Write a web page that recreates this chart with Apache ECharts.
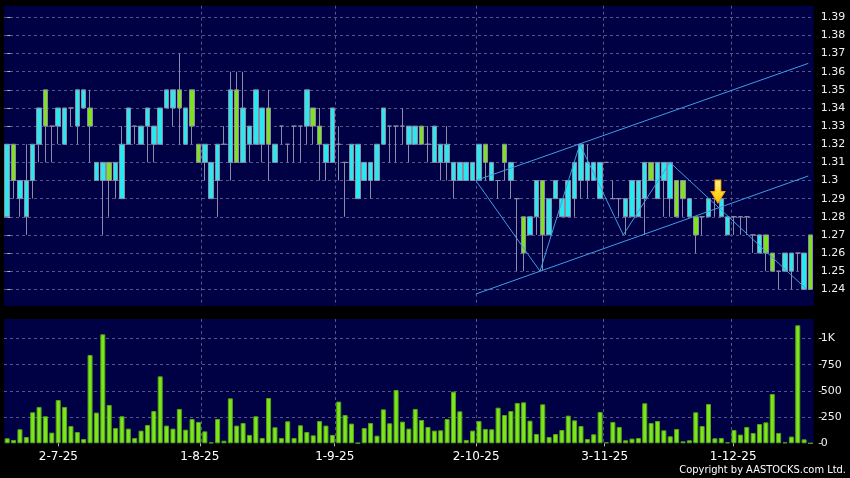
<!DOCTYPE html>
<html><head><meta charset="utf-8">
<script src="https://cdn.jsdelivr.net/npm/echarts@6/dist/echarts.min.js"></script>
<style>html,body{margin:0;padding:0;background:#000;}#c{width:850px;height:478px;}</style>
</head><body><div id="c"></div>
<script>
// Trading days (D-M-YY)
const dates = [
'19-6-25','20-6-25','23-6-25','24-6-25','25-6-25','26-6-25','27-6-25','30-6-25',
'2-7-25','3-7-25','4-7-25','7-7-25','8-7-25','9-7-25','10-7-25','11-7-25','14-7-25','15-7-25','16-7-25','17-7-25','18-7-25','21-7-25','22-7-25','23-7-25','24-7-25','25-7-25','28-7-25','29-7-25','30-7-25','31-7-25',
'1-8-25','4-8-25','5-8-25','6-8-25','7-8-25','8-8-25','11-8-25','12-8-25','13-8-25','14-8-25','15-8-25','18-8-25','19-8-25','20-8-25','21-8-25','22-8-25','25-8-25','26-8-25','27-8-25','28-8-25','29-8-25',
'1-9-25','2-9-25','3-9-25','4-9-25','5-9-25','8-9-25','9-9-25','10-9-25','11-9-25','12-9-25','15-9-25','16-9-25','17-9-25','18-9-25','19-9-25','22-9-25','23-9-25','24-9-25','25-9-25','26-9-25','29-9-25','30-9-25',
'2-10-25','3-10-25','6-10-25','8-10-25','9-10-25','10-10-25','13-10-25','14-10-25','15-10-25','16-10-25','17-10-25','20-10-25','21-10-25','22-10-25','23-10-25','24-10-25','27-10-25','28-10-25','30-10-25','31-10-25',
'3-11-25','4-11-25','5-11-25','6-11-25','7-11-25','10-11-25','11-11-25','12-11-25','13-11-25','14-11-25','17-11-25','18-11-25','19-11-25','20-11-25','21-11-25','24-11-25','25-11-25','26-11-25','27-11-25','28-11-25',
'1-12-25','2-12-25','3-12-25','4-12-25','5-12-25','8-12-25','9-12-25','10-12-25','11-12-25','12-12-25','15-12-25','16-12-25','17-12-25','18-12-25'
];
const monthLabels = ['2-7-25','1-8-25','1-9-25','2-10-25','3-11-25','1-12-25'];

const opens = [1.32,1.30,1.30,1.30,1.32,1.34,1.33,1.33,1.34,1.34,1.34,1.35,1.35,1.33,1.31,1.31,1.30,1.31,1.32,1.34,
1.33,1.33,1.34,1.33,1.34,1.35,1.35,1.34,1.34,1.33,1.31,1.32,1.31,1.32,1.32,1.35,1.31,1.34,1.33,1.35,
1.34,1.32,1.32,1.33,1.32,1.33,1.33,1.35,1.33,1.32,1.32,1.34,1.32,1.31,1.32,1.32,1.31,1.31,1.32,1.34,
1.33,1.33,1.33,1.33,1.33,1.32,1.32,1.33,1.32,1.32,1.31,1.31,1.31,1.31,1.32,1.31,1.31,1.30,1.31,1.31,
1.29,1.26,1.28,1.30,1.27,1.29,1.30,1.29,1.30,1.31,1.32,1.31,1.31,1.31,1.31,1.29,1.29,1.29,1.30,1.30,
1.31,1.30,1.31,1.31,1.31,1.28,1.29,1.29,1.27,1.28,1.29,1.29,1.29,1.28,1.28,1.28,1.28,1.27,1.27,1.26,
1.25,1.25,1.26,1.26,1.26,1.26,1.24];
const closes = [1.28,1.32,1.29,1.28,1.30,1.32,1.35,1.33,1.33,1.32,1.34,1.33,1.34,1.34,1.30,1.30,1.31,1.30,1.29,1.32,
1.33,1.32,1.33,1.32,1.32,1.34,1.34,1.35,1.32,1.35,1.32,1.31,1.29,1.30,1.32,1.31,1.35,1.31,1.32,1.32,
1.32,1.34,1.31,1.33,1.32,1.33,1.33,1.33,1.34,1.33,1.31,1.31,1.32,1.31,1.30,1.29,1.30,1.30,1.30,1.32,
1.33,1.33,1.33,1.32,1.32,1.33,1.32,1.31,1.31,1.31,1.30,1.30,1.30,1.30,1.30,1.32,1.30,1.30,1.32,1.30,
1.29,1.28,1.27,1.28,1.30,1.27,1.29,1.28,1.28,1.29,1.30,1.30,1.30,1.29,1.31,1.29,1.29,1.28,1.28,1.28,
1.29,1.31,1.29,1.30,1.29,1.30,1.30,1.28,1.28,1.28,1.28,1.29,1.28,1.27,1.28,1.28,1.28,1.27,1.26,1.27,
1.26,1.25,1.25,1.25,1.26,1.24,1.27];
const lows = [1.28,1.29,1.28,1.27,1.29,1.31,1.31,1.31,1.32,1.32,1.33,1.32,1.34,1.31,1.30,1.27,1.28,1.29,1.29,1.32,
1.32,1.32,1.31,1.31,1.32,1.34,1.33,1.32,1.32,1.32,1.31,1.30,1.29,1.28,1.32,1.30,1.31,1.31,1.31,1.32,
1.31,1.30,1.31,1.32,1.31,1.31,1.31,1.32,1.32,1.30,1.30,1.31,1.30,1.28,1.30,1.29,1.30,1.29,1.30,1.32,
1.31,1.31,1.32,1.31,1.32,1.32,1.31,1.31,1.30,1.30,1.29,1.30,1.30,1.30,1.30,1.30,1.30,1.29,1.30,1.29,
1.25,1.25,1.27,1.27,1.25,1.27,1.29,1.28,1.28,1.28,1.29,1.29,1.30,1.29,1.31,1.29,1.28,1.27,1.28,1.28,
1.27,1.30,1.29,1.28,1.28,1.28,1.28,1.28,1.26,1.27,1.28,1.28,1.28,1.27,1.27,1.27,1.27,1.26,1.26,1.25,
1.25,1.24,1.25,1.24,1.25,1.24,1.24];
const highs = [1.32,1.32,1.30,1.32,1.32,1.34,1.35,1.33,1.34,1.34,1.34,1.35,1.35,1.35,1.31,1.31,1.31,1.31,1.33,1.34,
1.33,1.33,1.34,1.33,1.34,1.35,1.35,1.37,1.34,1.35,1.32,1.32,1.31,1.32,1.33,1.36,1.36,1.36,1.33,1.35,
1.34,1.35,1.32,1.33,1.32,1.33,1.33,1.35,1.34,1.34,1.32,1.34,1.33,1.31,1.32,1.32,1.31,1.31,1.32,1.34,
1.33,1.33,1.34,1.33,1.33,1.33,1.33,1.33,1.32,1.33,1.31,1.31,1.31,1.31,1.32,1.32,1.31,1.30,1.32,1.31,
1.29,1.28,1.28,1.30,1.30,1.29,1.30,1.29,1.30,1.31,1.32,1.32,1.31,1.31,1.31,1.30,1.29,1.29,1.30,1.30,
1.31,1.31,1.31,1.31,1.31,1.30,1.30,1.29,1.28,1.28,1.29,1.29,1.29,1.28,1.28,1.28,1.28,1.27,1.27,1.27,
1.26,1.25,1.26,1.26,1.26,1.26,1.27];
const volumes = [48,32,134,60,296,347,258,102,413,347,165,108,41,843,293,1040,366,146,258,140,
51,121,175,308,639,169,140,328,130,232,204,114,8,232,25,429,169,194,80,258,
51,432,153,51,210,51,172,108,76,213,169,80,398,270,188,3,146,194,73,324,
191,509,207,140,328,223,156,121,124,232,493,305,32,121,213,137,134,340,270,308,
385,391,216,89,372,60,89,127,264,219,165,41,86,299,10,204,156,29,45,51,
382,194,213,124,67,137,19,29,296,165,375,48,51,10,127,83,156,99,184,200,
471,99,10,64,1126,38,0];
const priceTicks = [1.24,1.25,1.26,1.27,1.28,1.29,1.30,1.31,1.32,1.33,1.34,1.35,1.36,1.37,1.38,1.39];
const volumeTicks = [0,250,500,750,1000];
// Drawn studies: [position in trading-day units, price]
const upperChannel = [[73.5,1.300],[125.65,1.3646]];
const lowerChannel = [[73.5,1.2374],[125.65,1.3025]];
const zigzag = [[73.5,1.30],[83.57,1.25],[89.82,1.32],[96.63,1.27],[103.95,1.31],[125.4,1.24]];
const signalArrow = [[111.48,1.2939]];

const candleData = opens.map((o,i)=>[o, closes[i], lows[i], highs[i]]);
const labelIdx = new Set(monthLabels.map(d=>dates.indexOf(d)));
const splitIdx = new Set([...labelIdx].map(i=>i+1));

const GRID_LINE = {show:true, lineStyle:{color:'#55558a', width:1, type:[3,3]}};
const AXIS_TXT = {color:'#f0f0f0', fontFamily:'DejaVu Sans', fontSize:11};
const CYAN='#29e8f0', GREEN='#80e21f', TREND='#3d9fe3';

const chart = echarts.init(document.getElementById('c'), null, {renderer:'canvas'});
chart.setOption({
  backgroundColor:'#000000',
  animation:false,
  grid:[
    {left:4, top:5.7, width:809.7, height:300.3, show:true, backgroundColor:'#000044', borderWidth:0, containLabel:false, outerBoundsMode:'none'},
    {left:4, top:319, width:809.7, height:124.3, show:true, backgroundColor:'#000044', borderWidth:0, containLabel:false, outerBoundsMode:'none'},
    {left:7, top:319, width:809.7, height:124.3, show:false, containLabel:false, outerBoundsMode:'none'}
  ],
  xAxis:[
    {type:'category', gridIndex:0, data:dates, boundaryGap:true,
     axisLine:{show:false}, axisTick:{show:false}, axisLabel:{show:false},
     splitLine:Object.assign({}, GRID_LINE, {interval:(i)=>splitIdx.has(i), showMinLine:false, showMaxLine:false})},
    {type:'value', gridIndex:0, min:-0.5, max:dates.length-0.5, show:false},
    {type:'category', gridIndex:1, data:dates, boundaryGap:true,
     axisLine:{show:false}, axisTick:{show:false}, axisLabel:{show:false},
     splitLine:Object.assign({}, GRID_LINE, {interval:(i)=>splitIdx.has(i), showMinLine:false, showMaxLine:false})},
    {type:'category', gridIndex:2, data:dates, boundaryGap:false, offset:3,
     axisLine:{show:false},
     axisTick:{show:true, length:3, interval:(i)=>labelIdx.has(i), lineStyle:{color:'#bbbbbb'}},
     axisLabel:{show:true, interval:(i)=>labelIdx.has(i), margin:5, color:'#ffffff', fontFamily:'DejaVu Sans', fontSize:12},
     splitLine:{show:false}}
  ],
  yAxis:[
    {type:'value', gridIndex:0, position:'right', min:1.2308, max:1.3964, splitNumber:17,
     minInterval:0.01, maxInterval:0.01, offset:5,
     axisLine:{show:false},
     axisTick:{show:true, length:3, lineStyle:{color:'#bbbbbb'}},
     axisLabel:Object.assign({}, AXIS_TXT, {margin:2, showMinLabel:false, showMaxLabel:false,
       formatter:(v)=>{const r=Math.round(v*100)/100; return priceTicks.includes(r)? String(r):'';}}),
     splitLine:Object.assign({}, GRID_LINE, {showMinLine:false, showMaxLine:false})},
    {type:'value', gridIndex:1, position:'right', min:0, max:1186, interval:250, offset:5,
     axisLine:{show:false},
     axisTick:{show:true, length:3, lineStyle:{color:'#bbbbbb'}},
     axisLabel:Object.assign({}, AXIS_TXT, {margin:2, showMaxLabel:false,
       formatter:(v)=> volumeTicks.includes(v) ? (v>=1000 ? (v/1000)+'K' : String(v)) : ''}),
     splitLine:Object.assign({}, GRID_LINE, {showMinLine:false, showMaxLine:false})},
    {type:'value', gridIndex:2, show:false}
  ],
  series:[
    {type:'candlestick', name:'Price', xAxisIndex:0, yAxisIndex:0, data:candleData, barWidth:5,
     itemStyle:{color:GREEN, color0:CYAN, borderColor:'#8c8ca6', borderColor0:'#8c8ca6', borderColorDoji:'#8c8ca6', borderWidth:1},
     z:3},
    {type:'bar', name:'Volume', xAxisIndex:2, yAxisIndex:1, data:volumes, barWidth:5,
     itemStyle:{color:'#7de51e', borderColor:'#55a313', borderWidth:1}},
    {type:'line', xAxisIndex:1, yAxisIndex:0, data:upperChannel, symbol:'none', silent:true, z:4,
     lineStyle:{color:TREND, width:1}},
    {type:'line', xAxisIndex:1, yAxisIndex:0, data:lowerChannel, symbol:'none', silent:true, z:4,
     lineStyle:{color:TREND, width:1}},
    {type:'line', xAxisIndex:1, yAxisIndex:0, data:zigzag, symbol:'none', silent:true, z:4,
     lineStyle:{color:TREND, width:1}},
    {type:'scatter', xAxisIndex:1, yAxisIndex:0, data:signalArrow, silent:true, z:6,
     symbol:'path://M4,0L10,0L10,11L14,11L7,22L0,11L4,11Z', symbolSize:[14,23],
     itemStyle:{opacity:1, color:new echarts.graphic.LinearGradient(0,0,0,1,[{offset:0,color:'#fff59a'},{offset:0.5,color:'#ffdc2a'},{offset:1,color:'#ffc400'}]),
       borderColor:'#ff9f00', borderWidth:1}}
  ],
  graphic:[
    {type:'text', right:4, top:465, style:{text:'Copyright by AASTOCKS.com Ltd.', fill:'#ffffff',
      font:'11px "DejaVu Sans Condensed", "Liberation Sans Narrow", "Liberation Sans"'}}
  ]
});
</script></body></html>
